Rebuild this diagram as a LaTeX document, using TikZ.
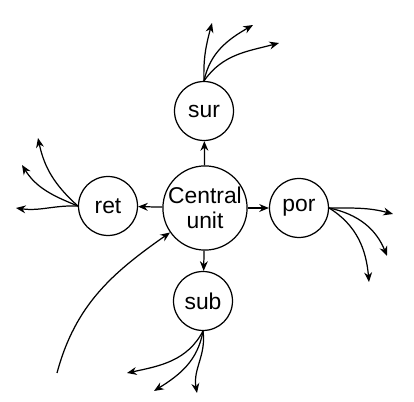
\documentclass[tikz,border=0pt]{standalone}
\usepackage{fontspec}
\setmainfont{Liberation Sans}
\usetikzlibrary{arrows.meta}
\begin{document}
\begin{tikzpicture}[x=0.02cm,y=-0.02cm]
  \useasboundingbox (0,0) rectangle (414,402);
  \begin{scope}[every node/.style={draw,circle,line width=0.7pt,inner sep=0pt,font=\fontsize{13}{14}\selectfont}]
  \node[minimum size=1.6cm,align=center] (cu) at (205,208) {Central\\unit};
  \node[minimum size=1.18cm] (sur) at (204,111) {sur};
  \node[minimum size=1.18cm] (ret) at (108,206) {ret};
  \node[minimum size=1.18cm] (por) at (299,208) {por};
  \node[minimum size=1.18cm] (sub) at (203,301) {sub};
  \end{scope}
  % free ends
  \coordinate (sur1) at (212,23);
  \coordinate (sur2) at (253,25);
  \coordinate (sur3) at (279,43);
  \coordinate (ret1) at (38,138);
  \coordinate (ret2) at (22,165);
  \coordinate (ret3) at (16,208);
  \coordinate (por1) at (393,214);
  \coordinate (por2) at (387,256);
  \coordinate (por3) at (369,282);
  \coordinate (sub1) at (127,373);
  \coordinate (sub2) at (154,391);
  \coordinate (sub3) at (197,393);
  \coordinate (in) at (57,373);
  \begin{scope}[every edge/.style={draw=black,line width=0.7pt,-{Stealth[length=5.5pt,width=4.5pt]}}]
  \path (cu) edge (sur);
  \path (cu) edge (ret);
  \path (cu) edge (por);
  \path (cu) edge (sub);
  \path (sur.north) edge[out=92,in=-105] (sur1);
  \path (sur.north) edge[out=78,in=-150] (sur2);
  \path (sur.north) edge[out=55,in=-165] (sur3);
  \path (ret.west) edge[out=138,in=-78] (ret1);
  \path (ret.west) edge[out=158,in=-58] (ret2);
  \path (ret.west) edge[out=178,in=-8] (ret3);
  \path (por.east) edge[out=0,in=165] (por1);
  \path (por.east) edge[out=-12,in=112] (por2);
  \path (por.east) edge[out=-32,in=95] (por3);
  \path (sub.south) edge[out=-118,in=12] (sub1);
  \path (sub.south) edge[out=-100,in=32] (sub2);
  \path (sub.south) edge[out=-82,in=100] (sub3);
  \path (in) edge[out=75,in=215] (cu.-145);
  \end{scope}
\end{tikzpicture}
\end{document}
